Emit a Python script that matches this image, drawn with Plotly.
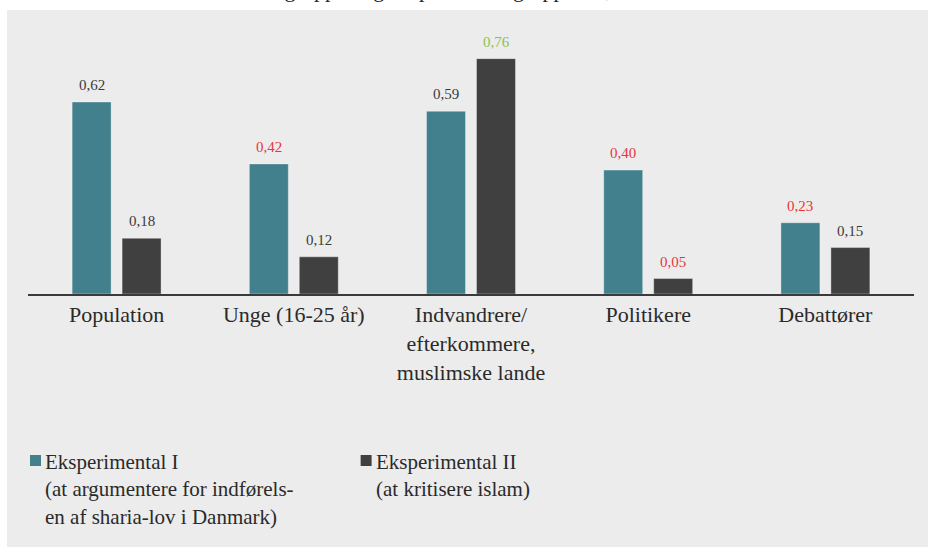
import plotly.graph_objects as go

# data
categories = ["Population", "Unge (16-25 år)", "Indvandrere/<br>efterkommere,<br>muslimske lande",
              "Politikere", "Debattører"]
eksp1 = [0.62, 0.42, 0.59, 0.40, 0.23]
eksp2 = [0.18, 0.12, 0.76, 0.05, 0.15]
eksp1_labels = ["0,62", "0,42", "0,59", "0,40", "0,23"]
eksp2_labels = ["0,18", "0,12", "0,76", "0,05", "0,15"]
eksp1_label_colors = ["#3a3a3a", "#e8353b", "#3a3a3a", "#e8353b", "#e8353b"]
eksp2_label_colors = ["#3a3a3a", "#3a3a3a", "#8cc152", "#e8353b", "#3a3a3a"]
legend1 = "Eksperimental I<br>(at argumentere for indførels-<br>en af sharia-lov i Danmark)"
legend2 = "Eksperimental II<br>(at kritisere islam)"
caption = "Tabellen viser effekten i forhold til kontrolgruppen og eksperimentalgruppen II;"

TEAL = "#41808c"
DARK = "#404040"
BG = "#ececec"
FONT = "Liberation Serif, DejaVu Serif, serif"

fig = go.Figure()
fig.add_trace(go.Bar(x=categories, y=eksp1, marker=dict(color=TEAL, line=dict(color="rgba(255,255,255,0.35)", width=1)),
                     showlegend=False, hoverinfo="skip"))
fig.add_trace(go.Bar(x=categories, y=eksp2, marker=dict(color=DARK, line=dict(color="rgba(255,255,255,0.35)", width=1)),
                     showlegend=False, hoverinfo="skip"))

# value labels above bars
for cat, v, t, c in zip(categories, eksp1, eksp1_labels, eksp1_label_colors):
    fig.add_annotation(x=cat, y=v, text=t, showarrow=False, xshift=-25, yshift=17,
                       font=dict(family=FONT, size=15, color=c))
for cat, v, t, c in zip(categories, eksp2, eksp2_labels, eksp2_label_colors):
    fig.add_annotation(x=cat, y=v, text=t, showarrow=False, xshift=25, yshift=17,
                       font=dict(family=FONT, size=15, color=c))

# legend drawn by hand
for px, color, txt in [(30, TEAL, legend1), (361, DARK, legend2)]:
    fig.add_shape(type="rect", xref="paper", yref="paper",
                  x0=(px - 28) / 887, x1=(px - 28 + 11) / 887,
                  y0=(294 - 466) / 284, y1=(294 - 455) / 284,
                  fillcolor=color, line=dict(width=0))
    fig.add_annotation(xref="paper", yref="paper", x=(px + 13 - 28) / 887, y=(294 - 448) / 284,
                       xanchor="left", yanchor="top", align="left", showarrow=False, text=txt,
                       font=dict(family=FONT, size=21, color="#2a2a2a"))

# white strip at the top with cut-off caption text
fig.add_shape(type="rect", xref="paper", yref="paper", x0=-0.1, x1=1.1, y0=1, y1=1.2,
              fillcolor="white", line=dict(width=0), layer="below")
fig.add_shape(type="rect", xref="paper", yref="paper", x0=-0.1, x1=(7 - 28) / 887, y0=-1.2, y1=1.2,
              fillcolor="white", line=dict(width=0), layer="below")
fig.add_annotation(xref="paper", yref="paper", x=(614 - 28) / 887, y=1 + 6 / 284,
                   xanchor="right", yanchor="bottom", showarrow=False, text=caption,
                   font=dict(family=FONT, size=22, color="#222222"))

fig.update_layout(
    width=928, height=547,
    margin=dict(l=28, r=14, t=10, b=253),
    paper_bgcolor=BG, plot_bgcolor=BG,
    barmode="group", bargap=0.436, bargroupgap=0.22,
    font=dict(family=FONT, color="#2a2a2a"),
    xaxis=dict(showline=True, linecolor="#3a3a3a", linewidth=2, ticks="", showgrid=False,
               tickfont=dict(family=FONT, size=22, color="#2a2a2a")),
    yaxis=dict(range=[0, 284 / 309.7], visible=False, showgrid=False, zeroline=False),
)

fig.write_html("out.html", config={"displayModeBar": False},
               post_script="document.body.style.margin='0';")
